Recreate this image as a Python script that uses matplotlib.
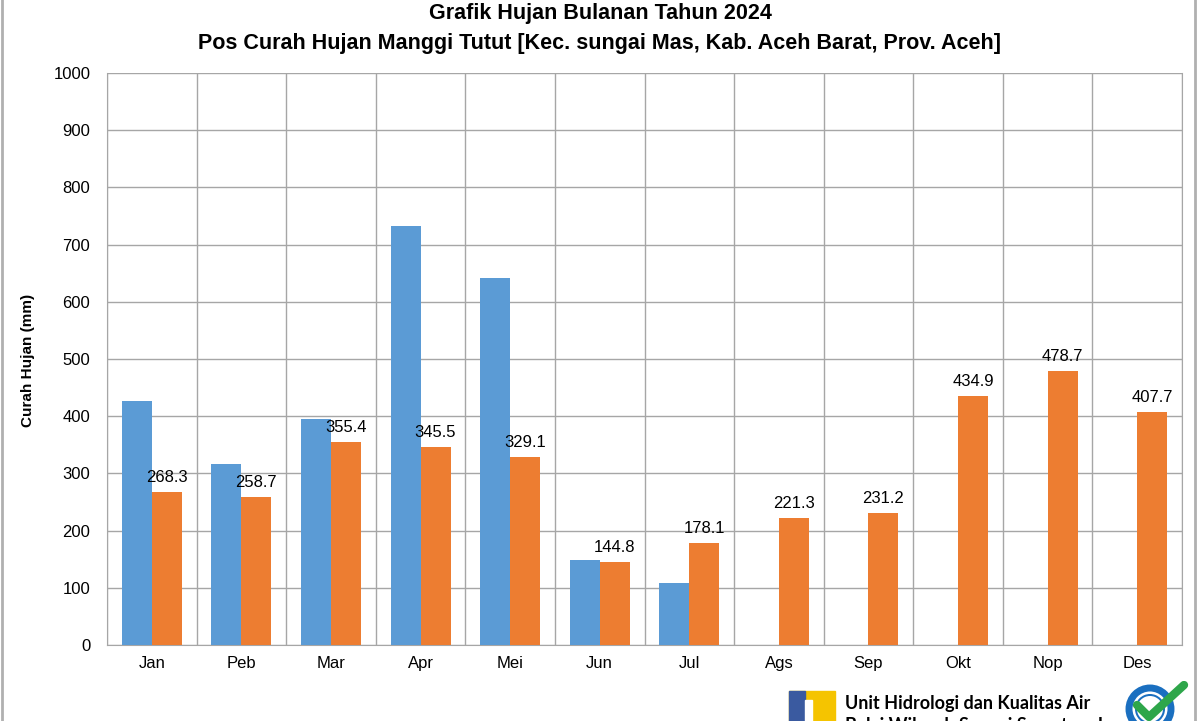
"""Grafik hujan bulanan 2024, Pos Curah Hujan Manggi Tutut."""

import matplotlib

matplotlib.use("Agg")

import numpy as np  # noqa: E402
from matplotlib import pyplot as plt  # noqa: E402
from matplotlib.patches import Circle, Rectangle, Wedge  # noqa: E402

months = ["Jan", "Peb", "Mar", "Apr", "Mei", "Jun", "Jul", "Ags", "Sep", "Okt", "Nop", "Des"]
hujan_2024 = [427.0, 317.0, 395.0, 733.0, 642.0, 149.0, 109.0, np.nan, np.nan, np.nan, np.nan, np.nan]
hujan_rerata = [268.3, 258.7, 355.4, 345.5, 329.1, 144.8, 178.1, 221.3, 231.2, 434.9, 478.7, 407.7]
y_ticks = list(range(0, 1001, 100))

NARROW = ["Liberation Sans Narrow", "Liberation Sans", "DejaVu Sans"]
BLUE = "#5b9bd5"
ORANGE = "#ed7d31"
GRID = "#a6a6a6"

fig = plt.figure(figsize=(12, 7.21), dpi=100)
ax = fig.add_axes([107 / 1200, 1 - 645 / 721, (1182 - 107) / 1200, (645 - 73) / 721])

x = np.arange(len(months))
width = 0.335
ax.bar(x - width / 2, hujan_2024, width, color=BLUE, zorder=3)
bars = ax.bar(x + width / 2, hujan_rerata, width, color=ORANGE, zorder=3)

for rect, val in zip(bars, hujan_rerata):
    ax.annotate(
        f"{val:.1f}",
        (rect.get_x() + rect.get_width() / 2, val),
        xytext=(0, 5),
        textcoords="offset points",
        ha="center",
        va="bottom",
        fontsize=12,
        family=NARROW,
        zorder=4,
    )

ax.set_xlim(-0.5, len(months) - 0.5)
ax.set_ylim(0, 1000)
ax.set_yticks(y_ticks)
ax.set_xticks(x)
ax.set_xticklabels(months)
ax.set_xticks(np.arange(-0.5, len(months), 1.0), minor=True)
ax.tick_params(axis="x", which="major", length=0, pad=8)
ax.tick_params(axis="x", which="minor", length=0)
ax.tick_params(axis="y", length=0, pad=12)
for lab in ax.get_xticklabels() + ax.get_yticklabels():
    lab.set_fontfamily(NARROW)
    lab.set_fontsize(12)

ax.grid(True, axis="y", which="major", color=GRID, linewidth=1, zorder=0)
ax.grid(True, axis="x", which="minor", color=GRID, linewidth=1, zorder=0)
for side in ("left", "right", "top", "bottom"):
    ax.spines[side].set_color(GRID)
ax.spines["top"].set_visible(False)

fig.text(28 / 1200, 1 - 360 / 721, "Curah Hujan (mm)", rotation=90, ha="center", va="center",
         fontsize=11, fontweight="bold", family=NARROW)

fig.text(0.5, 1 - 13 / 721, "Grafik Hujan Bulanan Tahun 2024", ha="center", va="center",
         fontsize=15.5, fontweight="bold", family=NARROW)
fig.text(0.5, 1 - 43 / 721,
         "Pos Curah Hujan Manggi Tutut [Kec. sungai Mas, Kab. Aceh Barat, Prov. Aceh]",
         ha="center", va="center", fontsize=15.5, fontweight="bold", family=NARROW)


# footer logo block
def px(xp, yp):
    return xp / 1200, 1 - yp / 721


lx, ly = px(789, 721)
fig.patches.append(Rectangle((lx, ly), 46 / 1200, 30 / 721, transform=fig.transFigure,
                             color="#f5c400", zorder=5))
fig.patches.append(Rectangle((lx, ly), 16 / 1200, 30 / 721, transform=fig.transFigure,
                             color="#3a5aa0", zorder=6))
fig.patches.append(Rectangle(px(805, 721), 7 / 1200, 21 / 721, transform=fig.transFigure,
                             color="white", zorder=6))

FOOT = ["Lato", "Open Sans", "DejaVu Sans"]
fig.text(845 / 1200, 1 - 703 / 721, "Unit Hidrologi dan Kualitas Air", ha="left", va="center",
         fontsize=13, fontweight="bold", family=FOOT)
fig.text(845 / 1200, 1 - 726 / 721, "Balai Wilayah Sungai Sumatera I", ha="left", va="center",
         fontsize=13, fontweight="bold", family=FOOT)

# ISO badge
badge_ax = fig.add_axes([1120 / 1200, 0, 72 / 1200, 40 / 721])
badge_ax.set_xlim(0, 72)
badge_ax.set_ylim(0, 40)
badge_ax.set_aspect("equal")
badge_ax.axis("off")
badge_ax.add_patch(Circle((30, 12), 21, facecolor="none", edgecolor="#1a6fc0", linewidth=5))
badge_ax.add_patch(Wedge((30, 12), 15, 0, 360, width=2, facecolor="#1a6fc0"))
badge_ax.plot([17, 29, 64], [16, 4, 36], color="#2ea64a", linewidth=6, solid_capstyle="round")

fig.patches.append(Rectangle((0.002, -0.01), 0.994, 1.02, transform=fig.transFigure,
                             fill=False, edgecolor="#b0b0b0", linewidth=2, zorder=10))

fig.savefig("out.png", dpi=100)
